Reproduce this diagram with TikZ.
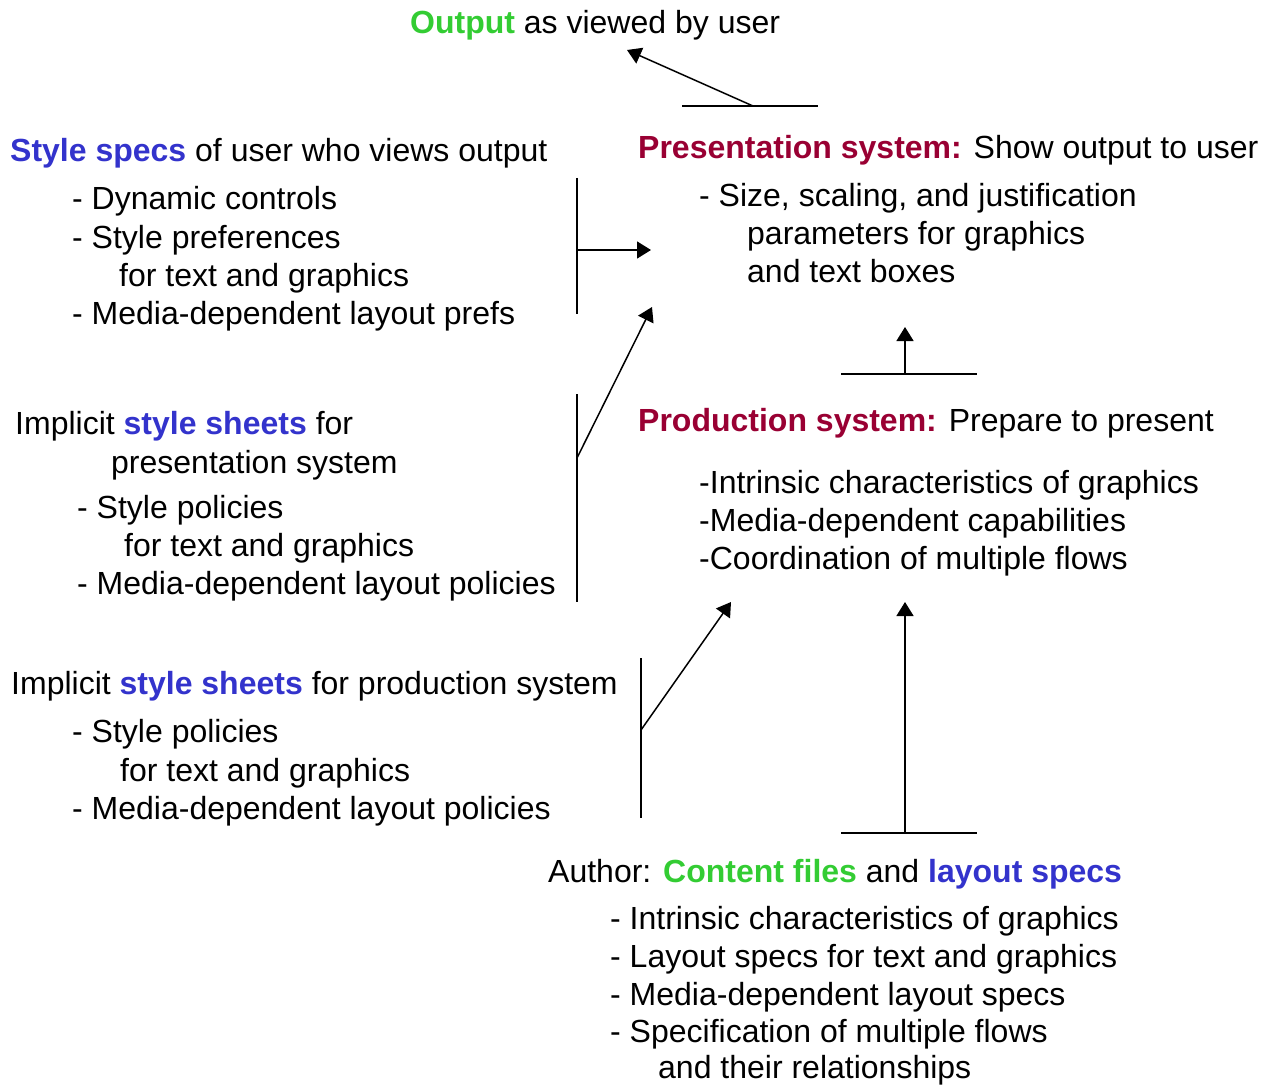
\documentclass[tikz,border=0pt]{standalone}
\usepackage{fontspec}
\setmainfont{Liberation Sans}
\usetikzlibrary{arrows.meta}
\definecolor{cgreen}{HTML}{33CC33}
\definecolor{cblue}{HTML}{3333CC}
\definecolor{cmaroon}{HTML}{990033}
\begin{document}
\begin{tikzpicture}[x=1pt,y=-1pt,
  txt/.style={anchor=base west,inner sep=0pt,font=\fontsize{32}{38}\selectfont},
  bar/.style={line width=1.2pt},
  arr/.style={line width=1.5pt,-{Triangle[length=14pt,width=17pt]}}]
\useasboundingbox (0,0) rectangle (1270,1086);
\newcommand{\G}[1]{\textcolor{cgreen}{\textbf{#1}}}
\newcommand{\B}[1]{\textcolor{cblue}{\textbf{#1}}}
\newcommand{\M}[1]{\textcolor{cmaroon}{\textbf{#1}}}
% top
\node[txt] (out) at (410,34) {\G{Output} as viewed by user};
% left block 1
\node[txt] (s1) at (10,162) {\B{Style specs} of user who views output};
\node[txt] (s2) at (72,210) {- Dynamic controls};
\node[txt] (s3) at (72,249) {- Style preferences};
\node[txt] (s4) at (119,287) {for text and graphics};
\node[txt] (s5) at (72,325) {- Media-dependent layout prefs};
% presentation
\node[txt] (p1) at (638,159) {\M{Presentation system:} Show output to user};
\node[txt] (p2) at (699,207) {- Size, scaling, and justification};
\node[txt] (p3) at (747,245) {parameters for graphics};
\node[txt] (p4) at (747,283) {and text boxes};
% left block 2
\node[txt] (i1) at (15,434) {Implicit \B{style sheets} for};
\node[txt] (i2) at (111,473) {presentation system};
\node[txt] (i3) at (77,518) {- Style policies};
\node[txt] (i4) at (124,556) {for text and graphics};
\node[txt] (i5) at (77,594) {- Media-dependent layout policies};
% production
\node[txt] (r1) at (638,431) {\M{Production system:} Prepare to present};
\node[txt] (r2) at (699,493) {-Intrinsic characteristics of graphics};
\node[txt] (r3) at (699,531) {-Media-dependent capabilities};
\node[txt] (r4) at (699,569) {-Coordination of multiple flows};
% left block 3
\node[txt] (j1) at (11,694) {Implicit \B{style sheets} for production system};
\node[txt] (j2) at (72,742) {- Style policies};
\node[txt] (j3) at (120,781) {for text and graphics};
\node[txt] (j4) at (72,819) {- Media-dependent layout policies};
% author
\node[txt] (a1) at (548,882) {Author: \G{Content files} and \B{layout specs}};
\node[txt] (a2) at (610,929) {- Intrinsic characteristics of graphics};
\node[txt] (a3) at (610,967) {- Layout specs for text and graphics};
\node[txt] (a4) at (610,1005) {- Media-dependent layout specs};
\node[txt] (a5) at (610,1042) {- Specification of multiple flows};
\node[txt] (a6) at (658,1078) {and their relationships};
% connector coordinates
\coordinate (h1l) at (682,106); \coordinate (h1r) at (818,106);
\coordinate (h1m) at (753,106); \coordinate (h1t) at (627,50);
\coordinate (v1t) at (577,178); \coordinate (v1b) at (577,314);
\coordinate (v1m) at (577,250); \coordinate (v1e) at (651,250);
\coordinate (v2t) at (577,394); \coordinate (v2b) at (577,602);
\coordinate (v2m) at (577,458); \coordinate (v2e) at (652,307);
\coordinate (h2l) at (841,374); \coordinate (h2r) at (977,374);
\coordinate (h2m) at (905,374); \coordinate (h2e) at (905,327);
\coordinate (v3t) at (641,658); \coordinate (v3b) at (641,818);
\coordinate (v3m) at (641,730); \coordinate (v3e) at (731,602);
\coordinate (h3l) at (841,833); \coordinate (h3r) at (977,833);
\coordinate (h3m) at (905,833); \coordinate (h3e) at (905,602);
% connectors
\draw[bar] (h1l) -- (h1r); \draw[arr] (h1m) -- (h1t);
\draw[bar] (v1t) -- (v1b); \draw[arr] (v1m) -- (v1e);
\draw[bar] (v2t) -- (v2b); \draw[arr] (v2m) -- (v2e);
\draw[bar] (h2l) -- (h2r); \draw[arr] (h2m) -- (h2e);
\draw[bar] (v3t) -- (v3b); \draw[arr] (v3m) -- (v3e);
\draw[bar] (h3l) -- (h3r); \draw[arr] (h3m) -- (h3e);
\end{tikzpicture}
\end{document}
